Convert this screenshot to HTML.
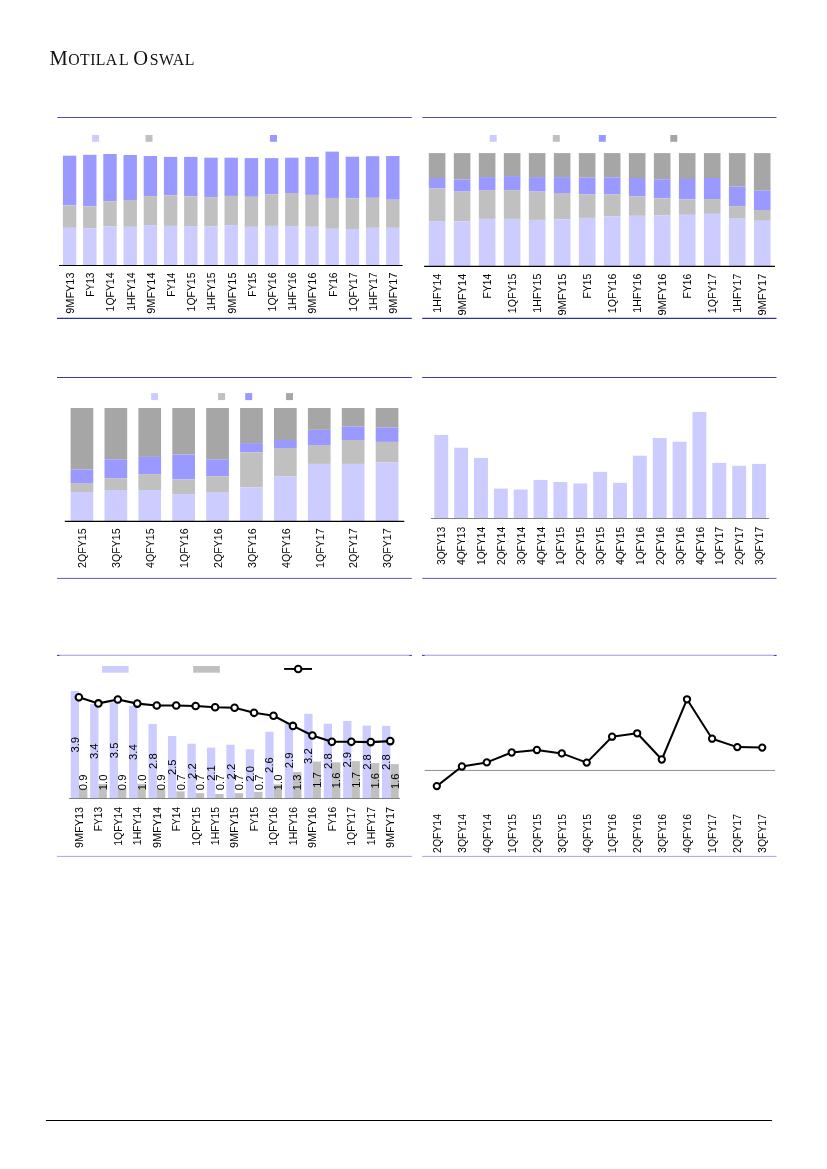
<!DOCTYPE html>
<html lang="en">
<head>
<meta charset="utf-8">
<title>Motilal Oswal</title>
<style>
html, body { margin: 0; padding: 0; background: #ffffff; }
body { width: 827px; height: 1169px; position: relative; overflow: hidden; }
.logo { position: absolute; left: 49.5px; top: 45.2px; margin: 0; white-space: nowrap;
  font-family: "Liberation Serif", "DejaVu Serif", serif; font-weight: normal; color: #111;
  font-size: 15.8px; letter-spacing: 0.6px; line-height: 26px; }
.logo b { font-weight: normal; font-size: 20.5px; }
.logo b.o { margin-right: 1.0px; }
.logo span { margin-left: 1.4px; }
.logo i { font-style: normal; letter-spacing: 0.38px; }
svg { position: absolute; left: 0; top: 0; }
svg text { font-family: "Liberation Sans", "DejaVu Sans", sans-serif; font-size: 10.8px; fill: #000; }
</style>
</head>
<body>
<h1 class="logo"><b>M</b><i>OTILA</i><span>L</span> <b class="o">O</b>SWAL</h1>
<svg width="827" height="1169" viewBox="0 0 827 1169">
<g id="chart1">
<line x1="57.30" y1="117.50" x2="411.80" y2="117.50" stroke="#4f4fb4" stroke-width="1.0"/>
<line x1="57.00" y1="318.40" x2="411.80" y2="318.40" stroke="#30309f" stroke-width="1.15"/>
<rect x="92.10" y="135.00" width="7.00" height="6.80" fill="#ccccff"/>
<rect x="145.50" y="135.00" width="7.00" height="6.80" fill="#c0c0c0"/>
<rect x="270.00" y="135.00" width="7.00" height="6.80" fill="#9999ff"/>
<rect x="62.90" y="155.70" width="13.40" height="49.60" fill="#9999ff"/>
<rect x="62.90" y="205.30" width="13.40" height="22.50" fill="#c0c0c0"/>
<rect x="62.90" y="227.80" width="13.40" height="37.20" fill="#ccccff"/>
<rect x="83.10" y="154.80" width="13.40" height="51.50" fill="#9999ff"/>
<rect x="83.10" y="206.30" width="13.40" height="22.00" fill="#c0c0c0"/>
<rect x="83.10" y="228.30" width="13.40" height="36.70" fill="#ccccff"/>
<rect x="103.30" y="154.00" width="13.40" height="47.20" fill="#9999ff"/>
<rect x="103.30" y="201.20" width="13.40" height="25.10" fill="#c0c0c0"/>
<rect x="103.30" y="226.30" width="13.40" height="38.70" fill="#ccccff"/>
<rect x="123.50" y="155.00" width="13.40" height="45.00" fill="#9999ff"/>
<rect x="123.50" y="200.00" width="13.40" height="26.80" fill="#c0c0c0"/>
<rect x="123.50" y="226.80" width="13.40" height="38.20" fill="#ccccff"/>
<rect x="143.70" y="156.00" width="13.40" height="40.10" fill="#9999ff"/>
<rect x="143.70" y="196.10" width="13.40" height="29.00" fill="#c0c0c0"/>
<rect x="143.70" y="225.10" width="13.40" height="39.90" fill="#ccccff"/>
<rect x="163.90" y="156.90" width="13.40" height="38.50" fill="#9999ff"/>
<rect x="163.90" y="195.40" width="13.40" height="30.50" fill="#c0c0c0"/>
<rect x="163.90" y="225.90" width="13.40" height="39.10" fill="#ccccff"/>
<rect x="184.10" y="156.90" width="13.40" height="39.40" fill="#9999ff"/>
<rect x="184.10" y="196.30" width="13.40" height="29.80" fill="#c0c0c0"/>
<rect x="184.10" y="226.10" width="13.40" height="38.90" fill="#ccccff"/>
<rect x="204.30" y="157.70" width="13.40" height="39.40" fill="#9999ff"/>
<rect x="204.30" y="197.10" width="13.40" height="29.20" fill="#c0c0c0"/>
<rect x="204.30" y="226.30" width="13.40" height="38.70" fill="#ccccff"/>
<rect x="224.50" y="157.70" width="13.40" height="38.20" fill="#9999ff"/>
<rect x="224.50" y="195.90" width="13.40" height="29.20" fill="#c0c0c0"/>
<rect x="224.50" y="225.10" width="13.40" height="39.90" fill="#ccccff"/>
<rect x="244.70" y="158.10" width="13.40" height="38.70" fill="#9999ff"/>
<rect x="244.70" y="196.80" width="13.40" height="30.00" fill="#c0c0c0"/>
<rect x="244.70" y="226.80" width="13.40" height="38.20" fill="#ccccff"/>
<rect x="264.90" y="158.10" width="13.40" height="36.10" fill="#9999ff"/>
<rect x="264.90" y="194.20" width="13.40" height="31.70" fill="#c0c0c0"/>
<rect x="264.90" y="225.90" width="13.40" height="39.10" fill="#ccccff"/>
<rect x="285.10" y="157.70" width="13.40" height="35.30" fill="#9999ff"/>
<rect x="285.10" y="193.00" width="13.40" height="33.10" fill="#c0c0c0"/>
<rect x="285.10" y="226.10" width="13.40" height="38.90" fill="#ccccff"/>
<rect x="305.30" y="156.90" width="13.40" height="38.00" fill="#9999ff"/>
<rect x="305.30" y="194.90" width="13.40" height="31.90" fill="#c0c0c0"/>
<rect x="305.30" y="226.80" width="13.40" height="38.20" fill="#ccccff"/>
<rect x="325.50" y="151.60" width="13.40" height="46.40" fill="#9999ff"/>
<rect x="325.50" y="198.00" width="13.40" height="30.80" fill="#c0c0c0"/>
<rect x="325.50" y="228.80" width="13.40" height="36.20" fill="#ccccff"/>
<rect x="345.70" y="156.70" width="13.40" height="41.60" fill="#9999ff"/>
<rect x="345.70" y="198.30" width="13.40" height="30.70" fill="#c0c0c0"/>
<rect x="345.70" y="229.00" width="13.40" height="36.00" fill="#ccccff"/>
<rect x="365.90" y="156.20" width="13.40" height="41.60" fill="#9999ff"/>
<rect x="365.90" y="197.80" width="13.40" height="30.00" fill="#c0c0c0"/>
<rect x="365.90" y="227.80" width="13.40" height="37.20" fill="#ccccff"/>
<rect x="386.10" y="156.00" width="13.40" height="43.70" fill="#9999ff"/>
<rect x="386.10" y="199.70" width="13.40" height="28.10" fill="#c0c0c0"/>
<rect x="386.10" y="227.80" width="13.40" height="37.20" fill="#ccccff"/>
<line x1="59.00" y1="265.50" x2="402.60" y2="265.50" stroke="#000" stroke-width="1.2"/>
<text class="al" transform="translate(74.07 313.69) rotate(-90)" textLength="41.19" lengthAdjust="spacingAndGlyphs">9MFY13</text>
<text class="al" transform="translate(94.27 296.80) rotate(-90)" textLength="24.30" lengthAdjust="spacingAndGlyphs">FY13</text>
<text class="al" transform="translate(114.47 311.43) rotate(-90)" textLength="38.93" lengthAdjust="spacingAndGlyphs">1QFY14</text>
<text class="al" transform="translate(134.67 310.81) rotate(-90)" textLength="38.31" lengthAdjust="spacingAndGlyphs">1HFY14</text>
<text class="al" transform="translate(154.87 313.69) rotate(-90)" textLength="41.19" lengthAdjust="spacingAndGlyphs">9MFY14</text>
<text class="al" transform="translate(175.07 296.80) rotate(-90)" textLength="24.30" lengthAdjust="spacingAndGlyphs">FY14</text>
<text class="al" transform="translate(195.27 311.43) rotate(-90)" textLength="38.93" lengthAdjust="spacingAndGlyphs">1QFY15</text>
<text class="al" transform="translate(215.47 310.81) rotate(-90)" textLength="38.31" lengthAdjust="spacingAndGlyphs">1HFY15</text>
<text class="al" transform="translate(235.67 313.69) rotate(-90)" textLength="41.19" lengthAdjust="spacingAndGlyphs">9MFY15</text>
<text class="al" transform="translate(255.87 296.80) rotate(-90)" textLength="24.30" lengthAdjust="spacingAndGlyphs">FY15</text>
<text class="al" transform="translate(276.07 311.43) rotate(-90)" textLength="38.93" lengthAdjust="spacingAndGlyphs">1QFY16</text>
<text class="al" transform="translate(296.27 310.81) rotate(-90)" textLength="38.31" lengthAdjust="spacingAndGlyphs">1HFY16</text>
<text class="al" transform="translate(316.47 313.69) rotate(-90)" textLength="41.19" lengthAdjust="spacingAndGlyphs">9MFY16</text>
<text class="al" transform="translate(336.67 296.80) rotate(-90)" textLength="24.30" lengthAdjust="spacingAndGlyphs">FY16</text>
<text class="al" transform="translate(356.87 311.43) rotate(-90)" textLength="38.93" lengthAdjust="spacingAndGlyphs">1QFY17</text>
<text class="al" transform="translate(377.07 310.81) rotate(-90)" textLength="38.31" lengthAdjust="spacingAndGlyphs">1HFY17</text>
<text class="al" transform="translate(397.27 313.69) rotate(-90)" textLength="41.19" lengthAdjust="spacingAndGlyphs">9MFY17</text>
</g>
<g id="chart2">
<line x1="422.30" y1="117.50" x2="776.50" y2="117.50" stroke="#4f4fb4" stroke-width="1.0"/>
<line x1="422.20" y1="318.40" x2="776.50" y2="318.40" stroke="#30309f" stroke-width="1.15"/>
<rect x="489.70" y="135.00" width="7.00" height="6.80" fill="#ccccff"/>
<rect x="552.80" y="135.00" width="7.00" height="6.80" fill="#c0c0c0"/>
<rect x="598.80" y="135.00" width="7.00" height="6.80" fill="#9999ff"/>
<rect x="670.30" y="135.00" width="7.00" height="6.80" fill="#a6a6a6"/>
<rect x="428.80" y="153.10" width="16.60" height="24.90" fill="#a6a6a6"/>
<rect x="428.80" y="178.00" width="16.60" height="10.40" fill="#9999ff"/>
<rect x="428.80" y="188.40" width="16.60" height="32.70" fill="#c0c0c0"/>
<rect x="428.80" y="221.10" width="16.60" height="44.90" fill="#ccccff"/>
<rect x="453.81" y="153.10" width="16.60" height="26.40" fill="#a6a6a6"/>
<rect x="453.81" y="179.50" width="16.60" height="12.10" fill="#9999ff"/>
<rect x="453.81" y="191.60" width="16.60" height="29.70" fill="#c0c0c0"/>
<rect x="453.81" y="221.30" width="16.60" height="44.70" fill="#ccccff"/>
<rect x="478.82" y="153.10" width="16.60" height="24.00" fill="#a6a6a6"/>
<rect x="478.82" y="177.10" width="16.60" height="13.00" fill="#9999ff"/>
<rect x="478.82" y="190.10" width="16.60" height="28.80" fill="#c0c0c0"/>
<rect x="478.82" y="218.90" width="16.60" height="47.10" fill="#ccccff"/>
<rect x="503.83" y="153.10" width="16.60" height="23.00" fill="#a6a6a6"/>
<rect x="503.83" y="176.10" width="16.60" height="14.00" fill="#9999ff"/>
<rect x="503.83" y="190.10" width="16.60" height="28.80" fill="#c0c0c0"/>
<rect x="503.83" y="218.90" width="16.60" height="47.10" fill="#ccccff"/>
<rect x="528.84" y="153.10" width="16.60" height="24.00" fill="#a6a6a6"/>
<rect x="528.84" y="177.10" width="16.60" height="14.50" fill="#9999ff"/>
<rect x="528.84" y="191.60" width="16.60" height="28.30" fill="#c0c0c0"/>
<rect x="528.84" y="219.90" width="16.60" height="46.10" fill="#ccccff"/>
<rect x="553.85" y="153.10" width="16.60" height="24.00" fill="#a6a6a6"/>
<rect x="553.85" y="177.10" width="16.60" height="15.90" fill="#9999ff"/>
<rect x="553.85" y="193.00" width="16.60" height="26.40" fill="#c0c0c0"/>
<rect x="553.85" y="219.40" width="16.60" height="46.60" fill="#ccccff"/>
<rect x="578.86" y="153.10" width="16.60" height="24.50" fill="#a6a6a6"/>
<rect x="578.86" y="177.60" width="16.60" height="16.90" fill="#9999ff"/>
<rect x="578.86" y="194.50" width="16.60" height="23.40" fill="#c0c0c0"/>
<rect x="578.86" y="217.90" width="16.60" height="48.10" fill="#ccccff"/>
<rect x="603.87" y="153.10" width="16.60" height="24.20" fill="#a6a6a6"/>
<rect x="603.87" y="177.30" width="16.60" height="17.20" fill="#9999ff"/>
<rect x="603.87" y="194.50" width="16.60" height="21.80" fill="#c0c0c0"/>
<rect x="603.87" y="216.30" width="16.60" height="49.70" fill="#ccccff"/>
<rect x="628.88" y="153.10" width="16.60" height="24.90" fill="#a6a6a6"/>
<rect x="628.88" y="178.00" width="16.60" height="18.40" fill="#9999ff"/>
<rect x="628.88" y="196.40" width="16.60" height="19.40" fill="#c0c0c0"/>
<rect x="628.88" y="215.80" width="16.60" height="50.20" fill="#ccccff"/>
<rect x="653.89" y="153.10" width="16.60" height="26.20" fill="#a6a6a6"/>
<rect x="653.89" y="179.30" width="16.60" height="19.10" fill="#9999ff"/>
<rect x="653.89" y="198.40" width="16.60" height="16.90" fill="#c0c0c0"/>
<rect x="653.89" y="215.30" width="16.60" height="50.70" fill="#ccccff"/>
<rect x="678.90" y="153.10" width="16.60" height="25.90" fill="#a6a6a6"/>
<rect x="678.90" y="179.00" width="16.60" height="20.30" fill="#9999ff"/>
<rect x="678.90" y="199.30" width="16.60" height="15.50" fill="#c0c0c0"/>
<rect x="678.90" y="214.80" width="16.60" height="51.20" fill="#ccccff"/>
<rect x="703.91" y="153.10" width="16.60" height="24.90" fill="#a6a6a6"/>
<rect x="703.91" y="178.00" width="16.60" height="21.10" fill="#9999ff"/>
<rect x="703.91" y="199.10" width="16.60" height="14.70" fill="#c0c0c0"/>
<rect x="703.91" y="213.80" width="16.60" height="52.20" fill="#ccccff"/>
<rect x="728.92" y="153.10" width="16.60" height="33.40" fill="#a6a6a6"/>
<rect x="728.92" y="186.50" width="16.60" height="19.60" fill="#9999ff"/>
<rect x="728.92" y="206.10" width="16.60" height="12.60" fill="#c0c0c0"/>
<rect x="728.92" y="218.70" width="16.60" height="47.30" fill="#ccccff"/>
<rect x="753.93" y="153.10" width="16.60" height="37.50" fill="#a6a6a6"/>
<rect x="753.93" y="190.60" width="16.60" height="19.40" fill="#9999ff"/>
<rect x="753.93" y="210.00" width="16.60" height="10.80" fill="#c0c0c0"/>
<rect x="753.93" y="220.80" width="16.60" height="45.20" fill="#ccccff"/>
<line x1="424.10" y1="266.40" x2="775.00" y2="266.40" stroke="#000" stroke-width="1.2"/>
<text class="al" transform="translate(440.87 312.63) rotate(-90)" textLength="38.93" lengthAdjust="spacingAndGlyphs">1HFY14</text>
<text class="al" transform="translate(465.88 315.55) rotate(-90)" textLength="41.85" lengthAdjust="spacingAndGlyphs">9MFY14</text>
<text class="al" transform="translate(490.89 298.39) rotate(-90)" textLength="24.69" lengthAdjust="spacingAndGlyphs">FY14</text>
<text class="al" transform="translate(515.90 313.26) rotate(-90)" textLength="39.56" lengthAdjust="spacingAndGlyphs">1QFY15</text>
<text class="al" transform="translate(540.91 312.63) rotate(-90)" textLength="38.93" lengthAdjust="spacingAndGlyphs">1HFY15</text>
<text class="al" transform="translate(565.92 315.55) rotate(-90)" textLength="41.85" lengthAdjust="spacingAndGlyphs">9MFY15</text>
<text class="al" transform="translate(590.93 298.39) rotate(-90)" textLength="24.69" lengthAdjust="spacingAndGlyphs">FY15</text>
<text class="al" transform="translate(615.94 313.26) rotate(-90)" textLength="39.56" lengthAdjust="spacingAndGlyphs">1QFY16</text>
<text class="al" transform="translate(640.95 312.63) rotate(-90)" textLength="38.93" lengthAdjust="spacingAndGlyphs">1HFY16</text>
<text class="al" transform="translate(665.96 315.55) rotate(-90)" textLength="41.85" lengthAdjust="spacingAndGlyphs">9MFY16</text>
<text class="al" transform="translate(690.97 298.39) rotate(-90)" textLength="24.69" lengthAdjust="spacingAndGlyphs">FY16</text>
<text class="al" transform="translate(715.98 313.26) rotate(-90)" textLength="39.56" lengthAdjust="spacingAndGlyphs">1QFY17</text>
<text class="al" transform="translate(740.99 312.63) rotate(-90)" textLength="38.93" lengthAdjust="spacingAndGlyphs">1HFY17</text>
<text class="al" transform="translate(766.00 315.55) rotate(-90)" textLength="41.85" lengthAdjust="spacingAndGlyphs">9MFY17</text>
</g>
<g id="chart3">
<line x1="57.00" y1="377.50" x2="411.80" y2="377.50" stroke="#3a3aac" stroke-width="1.0"/>
<line x1="57.00" y1="578.40" x2="411.80" y2="578.40" stroke="#6658b0" stroke-width="1.0"/>
<rect x="151.10" y="393.10" width="7.00" height="7.00" fill="#ccccff"/>
<rect x="218.10" y="393.10" width="7.00" height="7.00" fill="#c0c0c0"/>
<rect x="245.20" y="393.10" width="7.00" height="7.00" fill="#9999ff"/>
<rect x="286.00" y="393.10" width="7.00" height="7.00" fill="#a6a6a6"/>
<rect x="70.60" y="408.00" width="22.70" height="61.50" fill="#a6a6a6"/>
<rect x="70.60" y="469.50" width="22.70" height="13.50" fill="#9999ff"/>
<rect x="70.60" y="483.00" width="22.70" height="9.00" fill="#c0c0c0"/>
<rect x="70.60" y="492.00" width="22.70" height="29.00" fill="#ccccff"/>
<rect x="104.50" y="408.00" width="22.70" height="51.30" fill="#a6a6a6"/>
<rect x="104.50" y="459.30" width="22.70" height="18.90" fill="#9999ff"/>
<rect x="104.50" y="478.20" width="22.70" height="11.80" fill="#c0c0c0"/>
<rect x="104.50" y="490.00" width="22.70" height="31.00" fill="#ccccff"/>
<rect x="138.40" y="408.00" width="22.70" height="48.90" fill="#a6a6a6"/>
<rect x="138.40" y="456.90" width="22.70" height="17.20" fill="#9999ff"/>
<rect x="138.40" y="474.10" width="22.70" height="15.90" fill="#c0c0c0"/>
<rect x="138.40" y="490.00" width="22.70" height="31.00" fill="#ccccff"/>
<rect x="172.30" y="408.00" width="22.70" height="46.50" fill="#a6a6a6"/>
<rect x="172.30" y="454.50" width="22.70" height="24.90" fill="#9999ff"/>
<rect x="172.30" y="479.40" width="22.70" height="14.70" fill="#c0c0c0"/>
<rect x="172.30" y="494.10" width="22.70" height="26.90" fill="#ccccff"/>
<rect x="206.20" y="408.00" width="22.70" height="51.30" fill="#a6a6a6"/>
<rect x="206.20" y="459.30" width="22.70" height="16.90" fill="#9999ff"/>
<rect x="206.20" y="476.20" width="22.70" height="15.80" fill="#c0c0c0"/>
<rect x="206.20" y="492.00" width="22.70" height="29.00" fill="#ccccff"/>
<rect x="240.10" y="408.00" width="22.70" height="35.10" fill="#a6a6a6"/>
<rect x="240.10" y="443.10" width="22.70" height="9.20" fill="#9999ff"/>
<rect x="240.10" y="452.30" width="22.70" height="35.10" fill="#c0c0c0"/>
<rect x="240.10" y="487.40" width="22.70" height="33.60" fill="#ccccff"/>
<rect x="274.00" y="408.00" width="22.70" height="32.00" fill="#a6a6a6"/>
<rect x="274.00" y="440.00" width="22.70" height="8.00" fill="#9999ff"/>
<rect x="274.00" y="448.00" width="22.70" height="28.20" fill="#c0c0c0"/>
<rect x="274.00" y="476.20" width="22.70" height="44.80" fill="#ccccff"/>
<rect x="307.90" y="408.00" width="22.70" height="21.80" fill="#a6a6a6"/>
<rect x="307.90" y="429.80" width="22.70" height="15.20" fill="#9999ff"/>
<rect x="307.90" y="445.00" width="22.70" height="18.90" fill="#c0c0c0"/>
<rect x="307.90" y="463.90" width="22.70" height="57.10" fill="#ccccff"/>
<rect x="341.80" y="408.00" width="22.70" height="18.40" fill="#a6a6a6"/>
<rect x="341.80" y="426.40" width="22.70" height="13.60" fill="#9999ff"/>
<rect x="341.80" y="440.00" width="22.70" height="23.90" fill="#c0c0c0"/>
<rect x="341.80" y="463.90" width="22.70" height="57.10" fill="#ccccff"/>
<rect x="375.70" y="408.00" width="22.70" height="19.60" fill="#a6a6a6"/>
<rect x="375.70" y="427.60" width="22.70" height="14.30" fill="#9999ff"/>
<rect x="375.70" y="441.90" width="22.70" height="20.60" fill="#c0c0c0"/>
<rect x="375.70" y="462.50" width="22.70" height="58.50" fill="#ccccff"/>
<line x1="64.80" y1="521.40" x2="404.30" y2="521.40" stroke="#000" stroke-width="1.2"/>
<text class="al" transform="translate(86.22 568.01) rotate(-90)" textLength="39.56" lengthAdjust="spacingAndGlyphs">2QFY15</text>
<text class="al" transform="translate(120.12 568.01) rotate(-90)" textLength="39.56" lengthAdjust="spacingAndGlyphs">3QFY15</text>
<text class="al" transform="translate(154.02 568.01) rotate(-90)" textLength="39.56" lengthAdjust="spacingAndGlyphs">4QFY15</text>
<text class="al" transform="translate(187.92 568.01) rotate(-90)" textLength="39.56" lengthAdjust="spacingAndGlyphs">1QFY16</text>
<text class="al" transform="translate(221.82 568.01) rotate(-90)" textLength="39.56" lengthAdjust="spacingAndGlyphs">2QFY16</text>
<text class="al" transform="translate(255.72 568.01) rotate(-90)" textLength="39.56" lengthAdjust="spacingAndGlyphs">3QFY16</text>
<text class="al" transform="translate(289.62 568.01) rotate(-90)" textLength="39.56" lengthAdjust="spacingAndGlyphs">4QFY16</text>
<text class="al" transform="translate(323.52 568.01) rotate(-90)" textLength="39.56" lengthAdjust="spacingAndGlyphs">1QFY17</text>
<text class="al" transform="translate(357.42 568.01) rotate(-90)" textLength="39.56" lengthAdjust="spacingAndGlyphs">2QFY17</text>
<text class="al" transform="translate(391.32 568.01) rotate(-90)" textLength="39.56" lengthAdjust="spacingAndGlyphs">3QFY17</text>
</g>
<g id="chart4">
<line x1="422.20" y1="377.50" x2="776.50" y2="377.50" stroke="#3a3aac" stroke-width="1.0"/>
<line x1="422.20" y1="578.40" x2="776.50" y2="578.40" stroke="#6658b0" stroke-width="1.0"/>
<rect x="434.30" y="434.90" width="13.90" height="83.10" fill="#ccccff"/>
<rect x="454.16" y="447.70" width="13.90" height="70.30" fill="#ccccff"/>
<rect x="474.02" y="457.90" width="13.90" height="60.10" fill="#ccccff"/>
<rect x="493.88" y="488.60" width="13.90" height="29.40" fill="#ccccff"/>
<rect x="513.74" y="489.50" width="13.90" height="28.50" fill="#ccccff"/>
<rect x="533.60" y="479.90" width="13.90" height="38.10" fill="#ccccff"/>
<rect x="553.46" y="482.00" width="13.90" height="36.00" fill="#ccccff"/>
<rect x="573.32" y="483.50" width="13.90" height="34.50" fill="#ccccff"/>
<rect x="593.18" y="471.90" width="13.90" height="46.10" fill="#ccccff"/>
<rect x="613.04" y="482.80" width="13.90" height="35.20" fill="#ccccff"/>
<rect x="632.90" y="455.70" width="13.90" height="62.30" fill="#ccccff"/>
<rect x="652.76" y="438.00" width="13.90" height="80.00" fill="#ccccff"/>
<rect x="672.62" y="441.70" width="13.90" height="76.30" fill="#ccccff"/>
<rect x="692.48" y="411.90" width="13.90" height="106.10" fill="#ccccff"/>
<rect x="712.34" y="462.90" width="13.90" height="55.10" fill="#ccccff"/>
<rect x="732.20" y="465.80" width="13.90" height="52.20" fill="#ccccff"/>
<rect x="752.06" y="463.90" width="13.90" height="54.10" fill="#ccccff"/>
<line x1="430.90" y1="518.50" x2="769.20" y2="518.50" stroke="#808080" stroke-width="1.0"/>
<text class="al" transform="translate(445.32 565.06) rotate(-90)" textLength="38.21" lengthAdjust="spacingAndGlyphs">3QFY13</text>
<text class="al" transform="translate(465.18 565.06) rotate(-90)" textLength="38.21" lengthAdjust="spacingAndGlyphs">4QFY13</text>
<text class="al" transform="translate(485.04 565.06) rotate(-90)" textLength="38.21" lengthAdjust="spacingAndGlyphs">1QFY14</text>
<text class="al" transform="translate(504.90 565.06) rotate(-90)" textLength="38.21" lengthAdjust="spacingAndGlyphs">2QFY14</text>
<text class="al" transform="translate(524.76 565.06) rotate(-90)" textLength="38.21" lengthAdjust="spacingAndGlyphs">3QFY14</text>
<text class="al" transform="translate(544.62 565.06) rotate(-90)" textLength="38.21" lengthAdjust="spacingAndGlyphs">4QFY14</text>
<text class="al" transform="translate(564.48 565.06) rotate(-90)" textLength="38.21" lengthAdjust="spacingAndGlyphs">1QFY15</text>
<text class="al" transform="translate(584.34 565.06) rotate(-90)" textLength="38.21" lengthAdjust="spacingAndGlyphs">2QFY15</text>
<text class="al" transform="translate(604.20 565.06) rotate(-90)" textLength="38.21" lengthAdjust="spacingAndGlyphs">3QFY15</text>
<text class="al" transform="translate(624.06 565.06) rotate(-90)" textLength="38.21" lengthAdjust="spacingAndGlyphs">4QFY15</text>
<text class="al" transform="translate(643.92 565.06) rotate(-90)" textLength="38.21" lengthAdjust="spacingAndGlyphs">1QFY16</text>
<text class="al" transform="translate(663.78 565.06) rotate(-90)" textLength="38.21" lengthAdjust="spacingAndGlyphs">2QFY16</text>
<text class="al" transform="translate(683.64 565.06) rotate(-90)" textLength="38.21" lengthAdjust="spacingAndGlyphs">3QFY16</text>
<text class="al" transform="translate(703.50 565.06) rotate(-90)" textLength="38.21" lengthAdjust="spacingAndGlyphs">4QFY16</text>
<text class="al" transform="translate(723.36 565.06) rotate(-90)" textLength="38.21" lengthAdjust="spacingAndGlyphs">1QFY17</text>
<text class="al" transform="translate(743.22 565.06) rotate(-90)" textLength="38.21" lengthAdjust="spacingAndGlyphs">2QFY17</text>
<text class="al" transform="translate(763.08 565.06) rotate(-90)" textLength="38.21" lengthAdjust="spacingAndGlyphs">3QFY17</text>
</g>
<g id="chart5">
<line x1="57.00" y1="655.20" x2="411.80" y2="655.20" stroke="#9898dc" stroke-width="1.14"/>
<line x1="57.00" y1="655.50" x2="59.50" y2="655.50" stroke="#4646a6" stroke-width="1.0"/>
<line x1="409.30" y1="655.50" x2="411.80" y2="655.50" stroke="#4646a6" stroke-width="1.0"/>
<line x1="57.00" y1="856.40" x2="411.80" y2="856.40" stroke="#a9a4d8" stroke-width="1.0"/>
<rect x="102.00" y="666.00" width="26.60" height="6.70" fill="#ccccff"/>
<rect x="193.20" y="666.00" width="26.60" height="6.70" fill="#c0c0c0"/>
<rect x="70.70" y="691.00" width="8.30" height="107.20" fill="#ccccff"/>
<rect x="79.00" y="789.00" width="8.40" height="9.20" fill="#c0c0c0"/>
<rect x="90.16" y="704.10" width="8.30" height="94.10" fill="#ccccff"/>
<rect x="98.46" y="783.90" width="8.40" height="14.30" fill="#c0c0c0"/>
<rect x="109.62" y="702.30" width="8.30" height="95.90" fill="#ccccff"/>
<rect x="117.92" y="789.00" width="8.40" height="9.20" fill="#c0c0c0"/>
<rect x="129.08" y="705.80" width="8.30" height="92.40" fill="#ccccff"/>
<rect x="137.38" y="783.90" width="8.40" height="14.30" fill="#c0c0c0"/>
<rect x="148.54" y="723.90" width="8.30" height="74.30" fill="#ccccff"/>
<rect x="156.84" y="789.00" width="8.40" height="9.20" fill="#c0c0c0"/>
<rect x="168.00" y="736.00" width="8.30" height="62.20" fill="#ccccff"/>
<rect x="176.30" y="791.40" width="8.40" height="6.80" fill="#c0c0c0"/>
<rect x="187.46" y="743.70" width="8.30" height="54.50" fill="#ccccff"/>
<rect x="195.76" y="793.10" width="8.40" height="5.10" fill="#c0c0c0"/>
<rect x="206.92" y="747.60" width="8.30" height="50.60" fill="#ccccff"/>
<rect x="215.22" y="794.00" width="8.40" height="4.20" fill="#c0c0c0"/>
<rect x="226.38" y="744.70" width="8.30" height="53.50" fill="#ccccff"/>
<rect x="234.68" y="793.10" width="8.40" height="5.10" fill="#c0c0c0"/>
<rect x="245.84" y="749.30" width="8.30" height="48.90" fill="#ccccff"/>
<rect x="254.14" y="791.90" width="8.40" height="6.30" fill="#c0c0c0"/>
<rect x="265.30" y="731.70" width="8.30" height="66.50" fill="#ccccff"/>
<rect x="273.60" y="784.40" width="8.40" height="13.80" fill="#c0c0c0"/>
<rect x="284.76" y="722.30" width="8.30" height="75.90" fill="#ccccff"/>
<rect x="293.06" y="772.00" width="8.40" height="26.20" fill="#c0c0c0"/>
<rect x="304.22" y="713.80" width="8.30" height="84.40" fill="#ccccff"/>
<rect x="312.52" y="761.60" width="8.40" height="36.60" fill="#c0c0c0"/>
<rect x="323.68" y="723.70" width="8.30" height="74.50" fill="#ccccff"/>
<rect x="331.98" y="762.40" width="8.40" height="35.80" fill="#c0c0c0"/>
<rect x="343.14" y="721.00" width="8.30" height="77.20" fill="#ccccff"/>
<rect x="351.44" y="761.20" width="8.40" height="37.00" fill="#c0c0c0"/>
<rect x="362.60" y="725.60" width="8.30" height="72.60" fill="#ccccff"/>
<rect x="370.90" y="763.10" width="8.40" height="35.10" fill="#c0c0c0"/>
<rect x="382.06" y="725.90" width="8.30" height="72.30" fill="#ccccff"/>
<rect x="390.36" y="764.10" width="8.40" height="34.10" fill="#c0c0c0"/>
<line x1="68.95" y1="798.50" x2="400.10" y2="798.50" stroke="#808080" stroke-width="1.0"/>
<text class="dl" transform="translate(78.87 752.55) rotate(-90)" textLength="15.70" lengthAdjust="spacingAndGlyphs">3.9</text>
<text class="dl" transform="translate(87.37 790.25) rotate(-90)" textLength="15.70" lengthAdjust="spacingAndGlyphs">0.9</text>
<text class="dl" transform="translate(98.33 759.10) rotate(-90)" textLength="15.70" lengthAdjust="spacingAndGlyphs">3.4</text>
<text class="dl" transform="translate(106.83 790.25) rotate(-90)" textLength="15.70" lengthAdjust="spacingAndGlyphs">1.0</text>
<text class="dl" transform="translate(117.79 758.20) rotate(-90)" textLength="15.70" lengthAdjust="spacingAndGlyphs">3.5</text>
<text class="dl" transform="translate(126.29 790.25) rotate(-90)" textLength="15.70" lengthAdjust="spacingAndGlyphs">0.9</text>
<text class="dl" transform="translate(137.25 759.95) rotate(-90)" textLength="15.70" lengthAdjust="spacingAndGlyphs">3.4</text>
<text class="dl" transform="translate(145.75 790.25) rotate(-90)" textLength="15.70" lengthAdjust="spacingAndGlyphs">1.0</text>
<text class="dl" transform="translate(156.71 769.00) rotate(-90)" textLength="15.70" lengthAdjust="spacingAndGlyphs">2.8</text>
<text class="dl" transform="translate(165.21 790.25) rotate(-90)" textLength="15.70" lengthAdjust="spacingAndGlyphs">0.9</text>
<text class="dl" transform="translate(176.17 775.05) rotate(-90)" textLength="15.70" lengthAdjust="spacingAndGlyphs">2.5</text>
<text class="dl" transform="translate(184.67 790.25) rotate(-90)" textLength="15.70" lengthAdjust="spacingAndGlyphs">0.7</text>
<text class="dl" transform="translate(195.63 778.90) rotate(-90)" textLength="15.70" lengthAdjust="spacingAndGlyphs">2.2</text>
<text class="dl" transform="translate(204.13 790.25) rotate(-90)" textLength="15.70" lengthAdjust="spacingAndGlyphs">0.7</text>
<text class="dl" transform="translate(215.09 780.85) rotate(-90)" textLength="15.70" lengthAdjust="spacingAndGlyphs">2.1</text>
<text class="dl" transform="translate(223.59 790.25) rotate(-90)" textLength="15.70" lengthAdjust="spacingAndGlyphs">0.7</text>
<text class="dl" transform="translate(234.55 779.40) rotate(-90)" textLength="15.70" lengthAdjust="spacingAndGlyphs">2.2</text>
<text class="dl" transform="translate(243.05 790.25) rotate(-90)" textLength="15.70" lengthAdjust="spacingAndGlyphs">0.7</text>
<text class="dl" transform="translate(254.01 781.70) rotate(-90)" textLength="15.70" lengthAdjust="spacingAndGlyphs">2.0</text>
<text class="dl" transform="translate(262.51 790.25) rotate(-90)" textLength="15.70" lengthAdjust="spacingAndGlyphs">0.7</text>
<text class="dl" transform="translate(273.47 772.90) rotate(-90)" textLength="15.70" lengthAdjust="spacingAndGlyphs">2.6</text>
<text class="dl" transform="translate(281.97 790.25) rotate(-90)" textLength="15.70" lengthAdjust="spacingAndGlyphs">1.0</text>
<text class="dl" transform="translate(292.93 768.20) rotate(-90)" textLength="15.70" lengthAdjust="spacingAndGlyphs">2.9</text>
<text class="dl" transform="translate(301.43 790.25) rotate(-90)" textLength="15.70" lengthAdjust="spacingAndGlyphs">1.3</text>
<text class="dl" transform="translate(312.39 763.95) rotate(-90)" textLength="15.70" lengthAdjust="spacingAndGlyphs">3.2</text>
<text class="dl" transform="translate(320.89 787.85) rotate(-90)" textLength="15.70" lengthAdjust="spacingAndGlyphs">1.7</text>
<text class="dl" transform="translate(331.85 768.90) rotate(-90)" textLength="15.70" lengthAdjust="spacingAndGlyphs">2.8</text>
<text class="dl" transform="translate(340.35 788.25) rotate(-90)" textLength="15.70" lengthAdjust="spacingAndGlyphs">1.6</text>
<text class="dl" transform="translate(351.31 767.55) rotate(-90)" textLength="15.70" lengthAdjust="spacingAndGlyphs">2.9</text>
<text class="dl" transform="translate(359.81 787.65) rotate(-90)" textLength="15.70" lengthAdjust="spacingAndGlyphs">1.7</text>
<text class="dl" transform="translate(370.77 769.85) rotate(-90)" textLength="15.70" lengthAdjust="spacingAndGlyphs">2.8</text>
<text class="dl" transform="translate(379.27 788.60) rotate(-90)" textLength="15.70" lengthAdjust="spacingAndGlyphs">1.6</text>
<text class="dl" transform="translate(390.23 770.00) rotate(-90)" textLength="15.70" lengthAdjust="spacingAndGlyphs">2.8</text>
<text class="dl" transform="translate(398.73 789.10) rotate(-90)" textLength="15.70" lengthAdjust="spacingAndGlyphs">1.6</text>
<polyline fill="none" stroke="#000" stroke-width="2.1" stroke-linejoin="round" points="78.90,697.30 98.36,703.40 117.82,699.50 137.28,703.60 156.74,705.50 176.20,705.50 195.66,706.00 215.12,707.20 234.58,707.70 254.04,712.80 273.50,715.70 292.96,725.90 312.42,735.50 331.88,741.80 351.34,741.80 370.80,742.10 390.26,741.10"/>
<circle cx="78.90" cy="697.30" r="3.3" fill="#fff" stroke="#000" stroke-width="2.05"/>
<circle cx="98.36" cy="703.40" r="3.3" fill="#fff" stroke="#000" stroke-width="2.05"/>
<circle cx="117.82" cy="699.50" r="3.3" fill="#fff" stroke="#000" stroke-width="2.05"/>
<circle cx="137.28" cy="703.60" r="3.3" fill="#fff" stroke="#000" stroke-width="2.05"/>
<circle cx="156.74" cy="705.50" r="3.3" fill="#fff" stroke="#000" stroke-width="2.05"/>
<circle cx="176.20" cy="705.50" r="3.3" fill="#fff" stroke="#000" stroke-width="2.05"/>
<circle cx="195.66" cy="706.00" r="3.3" fill="#fff" stroke="#000" stroke-width="2.05"/>
<circle cx="215.12" cy="707.20" r="3.3" fill="#fff" stroke="#000" stroke-width="2.05"/>
<circle cx="234.58" cy="707.70" r="3.3" fill="#fff" stroke="#000" stroke-width="2.05"/>
<circle cx="254.04" cy="712.80" r="3.3" fill="#fff" stroke="#000" stroke-width="2.05"/>
<circle cx="273.50" cy="715.70" r="3.3" fill="#fff" stroke="#000" stroke-width="2.05"/>
<circle cx="292.96" cy="725.90" r="3.3" fill="#fff" stroke="#000" stroke-width="2.05"/>
<circle cx="312.42" cy="735.50" r="3.3" fill="#fff" stroke="#000" stroke-width="2.05"/>
<circle cx="331.88" cy="741.80" r="3.3" fill="#fff" stroke="#000" stroke-width="2.05"/>
<circle cx="351.34" cy="741.80" r="3.3" fill="#fff" stroke="#000" stroke-width="2.05"/>
<circle cx="370.80" cy="742.10" r="3.3" fill="#fff" stroke="#000" stroke-width="2.05"/>
<circle cx="390.26" cy="741.10" r="3.3" fill="#fff" stroke="#000" stroke-width="2.05"/>
<line x1="284.1" y1="668.95" x2="312.0" y2="668.95" stroke="#000" stroke-width="1.9"/>
<circle cx="298.2" cy="669" r="3.3" fill="#fff" stroke="#000" stroke-width="2.05"/>
<text class="al" transform="translate(82.77 848.04) rotate(-90)" textLength="41.19" lengthAdjust="spacingAndGlyphs">9MFY13</text>
<text class="al" transform="translate(102.23 831.15) rotate(-90)" textLength="24.30" lengthAdjust="spacingAndGlyphs">FY13</text>
<text class="al" transform="translate(121.69 845.78) rotate(-90)" textLength="38.93" lengthAdjust="spacingAndGlyphs">1QFY14</text>
<text class="al" transform="translate(141.15 845.16) rotate(-90)" textLength="38.31" lengthAdjust="spacingAndGlyphs">1HFY14</text>
<text class="al" transform="translate(160.61 848.04) rotate(-90)" textLength="41.19" lengthAdjust="spacingAndGlyphs">9MFY14</text>
<text class="al" transform="translate(180.07 831.15) rotate(-90)" textLength="24.30" lengthAdjust="spacingAndGlyphs">FY14</text>
<text class="al" transform="translate(199.53 845.78) rotate(-90)" textLength="38.93" lengthAdjust="spacingAndGlyphs">1QFY15</text>
<text class="al" transform="translate(218.99 845.16) rotate(-90)" textLength="38.31" lengthAdjust="spacingAndGlyphs">1HFY15</text>
<text class="al" transform="translate(238.45 848.04) rotate(-90)" textLength="41.19" lengthAdjust="spacingAndGlyphs">9MFY15</text>
<text class="al" transform="translate(257.91 831.15) rotate(-90)" textLength="24.30" lengthAdjust="spacingAndGlyphs">FY15</text>
<text class="al" transform="translate(277.37 845.78) rotate(-90)" textLength="38.93" lengthAdjust="spacingAndGlyphs">1QFY16</text>
<text class="al" transform="translate(296.83 845.16) rotate(-90)" textLength="38.31" lengthAdjust="spacingAndGlyphs">1HFY16</text>
<text class="al" transform="translate(316.29 848.04) rotate(-90)" textLength="41.19" lengthAdjust="spacingAndGlyphs">9MFY16</text>
<text class="al" transform="translate(335.75 831.15) rotate(-90)" textLength="24.30" lengthAdjust="spacingAndGlyphs">FY16</text>
<text class="al" transform="translate(355.21 845.78) rotate(-90)" textLength="38.93" lengthAdjust="spacingAndGlyphs">1QFY17</text>
<text class="al" transform="translate(374.67 845.16) rotate(-90)" textLength="38.31" lengthAdjust="spacingAndGlyphs">1HFY17</text>
<text class="al" transform="translate(394.13 848.04) rotate(-90)" textLength="41.19" lengthAdjust="spacingAndGlyphs">9MFY17</text>
</g>
<g id="chart6">
<line x1="422.20" y1="655.20" x2="776.50" y2="655.20" stroke="#9898dc" stroke-width="1.14"/>
<line x1="422.20" y1="655.50" x2="424.70" y2="655.50" stroke="#4646a6" stroke-width="1.0"/>
<line x1="774.00" y1="655.50" x2="776.50" y2="655.50" stroke="#4646a6" stroke-width="1.0"/>
<line x1="422.20" y1="856.40" x2="776.50" y2="856.40" stroke="#a9a4d8" stroke-width="1.0"/>
<line x1="424.70" y1="770.45" x2="775.00" y2="770.45" stroke="#808080" stroke-width="0.9"/>
<polyline fill="none" stroke="#000" stroke-width="2.0" stroke-linejoin="round" points="436.80,786.10 461.90,766.50 486.80,762.40 511.70,752.50 536.90,750.00 561.80,753.40 586.70,762.60 612.10,736.70 637.20,733.30 661.80,759.50 687.00,699.30 712.10,738.70 737.30,747.10 762.20,747.60"/>
<circle cx="436.80" cy="786.10" r="3.15" fill="#fff" stroke="#000" stroke-width="2.0"/>
<circle cx="461.90" cy="766.50" r="3.15" fill="#fff" stroke="#000" stroke-width="2.0"/>
<circle cx="486.80" cy="762.40" r="3.15" fill="#fff" stroke="#000" stroke-width="2.0"/>
<circle cx="511.70" cy="752.50" r="3.15" fill="#fff" stroke="#000" stroke-width="2.0"/>
<circle cx="536.90" cy="750.00" r="3.15" fill="#fff" stroke="#000" stroke-width="2.0"/>
<circle cx="561.80" cy="753.40" r="3.15" fill="#fff" stroke="#000" stroke-width="2.0"/>
<circle cx="586.70" cy="762.60" r="3.15" fill="#fff" stroke="#000" stroke-width="2.0"/>
<circle cx="612.10" cy="736.70" r="3.15" fill="#fff" stroke="#000" stroke-width="2.0"/>
<circle cx="637.20" cy="733.30" r="3.15" fill="#fff" stroke="#000" stroke-width="2.0"/>
<circle cx="661.80" cy="759.50" r="3.15" fill="#fff" stroke="#000" stroke-width="2.0"/>
<circle cx="687.00" cy="699.30" r="3.15" fill="#fff" stroke="#000" stroke-width="2.0"/>
<circle cx="712.10" cy="738.70" r="3.15" fill="#fff" stroke="#000" stroke-width="2.0"/>
<circle cx="737.30" cy="747.10" r="3.15" fill="#fff" stroke="#000" stroke-width="2.0"/>
<circle cx="762.20" cy="747.60" r="3.15" fill="#fff" stroke="#000" stroke-width="2.0"/>
<text class="al" transform="translate(440.97 852.93) rotate(-90)" textLength="38.93" lengthAdjust="spacingAndGlyphs">2QFY14</text>
<text class="al" transform="translate(466.00 852.93) rotate(-90)" textLength="38.93" lengthAdjust="spacingAndGlyphs">3QFY14</text>
<text class="al" transform="translate(491.03 852.93) rotate(-90)" textLength="38.93" lengthAdjust="spacingAndGlyphs">4QFY14</text>
<text class="al" transform="translate(516.06 852.93) rotate(-90)" textLength="38.93" lengthAdjust="spacingAndGlyphs">1QFY15</text>
<text class="al" transform="translate(541.09 852.93) rotate(-90)" textLength="38.93" lengthAdjust="spacingAndGlyphs">2QFY15</text>
<text class="al" transform="translate(566.12 852.93) rotate(-90)" textLength="38.93" lengthAdjust="spacingAndGlyphs">3QFY15</text>
<text class="al" transform="translate(591.15 852.93) rotate(-90)" textLength="38.93" lengthAdjust="spacingAndGlyphs">4QFY15</text>
<text class="al" transform="translate(616.18 852.93) rotate(-90)" textLength="38.93" lengthAdjust="spacingAndGlyphs">1QFY16</text>
<text class="al" transform="translate(641.21 852.93) rotate(-90)" textLength="38.93" lengthAdjust="spacingAndGlyphs">2QFY16</text>
<text class="al" transform="translate(666.24 852.93) rotate(-90)" textLength="38.93" lengthAdjust="spacingAndGlyphs">3QFY16</text>
<text class="al" transform="translate(691.27 852.93) rotate(-90)" textLength="38.93" lengthAdjust="spacingAndGlyphs">4QFY16</text>
<text class="al" transform="translate(716.30 852.93) rotate(-90)" textLength="38.93" lengthAdjust="spacingAndGlyphs">1QFY17</text>
<text class="al" transform="translate(741.33 852.93) rotate(-90)" textLength="38.93" lengthAdjust="spacingAndGlyphs">2QFY17</text>
<text class="al" transform="translate(766.36 852.93) rotate(-90)" textLength="38.93" lengthAdjust="spacingAndGlyphs">3QFY17</text>
</g>
<line x1="45.90" y1="1120.50" x2="771.90" y2="1120.50" stroke="#000" stroke-width="1.0"/>
</svg>
</body>
</html>
